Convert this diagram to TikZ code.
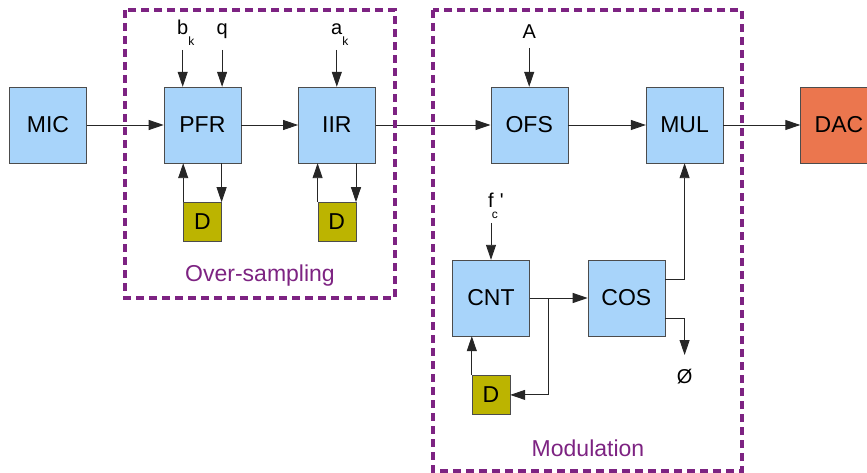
\documentclass[tikz,border=0pt]{standalone}
\usepackage{fontspec}
\setmainfont{Liberation Sans}
\usetikzlibrary{positioning}
\usetikzlibrary{arrows.meta}
\usetikzlibrary{calc}
\definecolor{blockblue}{RGB}{168,212,250}
\definecolor{delayolive}{RGB}{188,180,0}
\definecolor{dacorange}{RGB}{235,118,78}
\definecolor{grouppurple}{RGB}{125,35,130}
\newcommand{\lowsub}[1]{\rlap{\raisebox{-11pt}{\fontsize{12}{12}\selectfont #1}}}
\tikzset{
block/.style={rectangle, draw=black!70, fill=blockblue, minimum width=77pt, minimum height=76pt, inner sep=0pt, font=\fontsize{23}{27}\selectfont},
delay/.style={rectangle, draw=black!70, fill=delayolive, minimum width=38pt, minimum height=39pt, inner sep=0pt, font=\fontsize{23}{27}\selectfont},
param/.style={inner sep=2pt, text depth=13pt, font=\fontsize{20}{24}\selectfont},
group/.style={draw=grouppurple, line width=3.5pt, dash pattern=on 8pt off 5pt},
group_name/.style={text=grouppurple, font=\fontsize{23}{27}\selectfont},
wire/.style={draw=black!85, line width=0.9pt, ->}
}
\begin{document}
\begin{tikzpicture}[x=1pt, y=1pt, >={Triangle[length=15pt,width=10pt]}]
    \useasboundingbox (0,0) rectangle (867,-473);
    % main chain
    \node[block] (mic) at (48,-125) {MIC};
    \node[block] (pfr) [right=77pt of mic] {PFR};
    \node[block] (iir) [right=57pt of pfr] {IIR};
    \node[block] (ofs) [right=115pt of iir] {OFS};
    \node[block] (mul) [right=78pt of ofs] {MUL};
    \node[block, fill=dacorange] (dac) [right=77pt of mul] {DAC};
    \node[delay] (d_pfr) [below=39pt of pfr] {D};
    \node[delay] (d_iir) [below=39pt of iir] {D};

    % carrier
    \node[block] (cnt) at (491,-298) {CNT};
    \node[block] (cos) [right=58pt of cnt] {COS};
    \node[delay] (d_cnt) [below=39pt of cnt] {D};

    % inputs
    \node[param] (b_k) [above=37pt of pfr.north west, xshift=19pt] {b\lowsub{k}};
    \node[param] (q) [above=37pt of pfr.north east, xshift=-19pt] {q};
    \node[param] (a_k) [above=37pt of iir] {a\lowsub{k}};
    \node[param, text depth=7pt] (amp) [above=39pt of ofs] {A};
    \node[param] (f_c) [above=37pt of cnt] {f\rlap{\hspace{6pt}\textquotesingle}\lowsub{\hspace{-2pt}c}};
    \node[param, text depth=0pt, inner ysep=14pt, anchor=north] (nul) at (mul.south |- 0,-355) {Ø};

    \draw[wire] (mic) -- (pfr);
    \draw[wire] (pfr) -- (iir);
    \draw[wire] (iir) -- (ofs);
    \draw[wire] (ofs) -- (mul);
    \draw[wire] (mul) -- (dac);
    \draw[wire] (b_k) -- (b_k |- pfr.north);
    \draw[wire] (q) -- (q |- pfr.north);
    \draw[wire] (a_k) -- (iir);
    \draw[wire] (amp) -- (ofs);
    \draw[wire] (f_c) -- (f_c |- cnt.north);

    % delay loops
    \draw[wire] (d_pfr.north west) -- (d_pfr.north west |- pfr.south);
    \draw[wire] (d_pfr.north east |- pfr.south) -- (d_pfr.north east);
    \draw[wire] (d_iir.north west) -- (d_iir.north west |- iir.south);
    \draw[wire] (d_iir.north east |- iir.south) -- (d_iir.north east);

    \draw[wire] (cnt) -- (cos);
    \coordinate (cnt_split) at ($(cnt.east)!0.33!(cos.west)$);
    \draw[wire] (cnt_split) |- (d_cnt.east);
    \draw[wire] (d_cnt.north west) -- (d_cnt.north west |- cnt.south);
    \draw[wire] ([yshift=19pt]cos.east) -| (mul.south);
    \draw[wire] ([yshift=-20pt]cos.east) -| (nul.north);

    % groups
    \draw[group] (125,-10) rectangle (395,-298);
    \node[group_name] (over_name) at (260,-276) {Over-sampling};
    \draw[group] (433,-10) rectangle (742,-471);
    \node[group_name] (mod_name) at (588,-448) {Modulation};
\end{tikzpicture}
\end{document}
